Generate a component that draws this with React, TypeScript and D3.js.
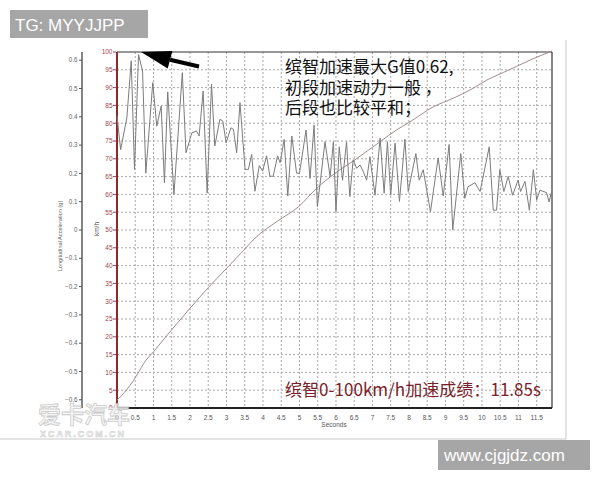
import React from "react";
import * as d3 from "d3";

// ---- data ----
const accelTime = [0.0, 0.1, 0.27, 0.39, 0.48, 0.59, 0.7, 0.79, 0.98, 1.09, 1.21, 1.3, 1.39, 1.56, 1.79, 1.89, 2.05, 2.18, 2.25, 2.36, 2.47, 2.59, 2.68, 2.82, 2.9, 2.99, 3.12, 3.19, 3.28, 3.37, 3.51, 3.6, 3.69, 3.78, 3.9, 3.99, 4.1, 4.19, 4.28, 4.4, 4.47, 4.58, 4.68, 4.79, 4.92, 5.0, 5.18, 5.29, 5.4, 5.49, 5.7, 5.84, 5.93, 6.0, 6.09, 6.18, 6.29, 6.38, 6.47, 6.57, 6.66, 6.75, 6.84, 6.93, 7.07, 7.21, 7.32, 7.41, 7.5, 7.62, 7.74, 7.89, 7.98, 8.19, 8.28, 8.39, 8.59, 8.8, 8.94, 9.1, 9.2, 9.42, 9.53, 9.62, 9.81, 9.95, 10.2, 10.31, 10.4, 10.49, 10.6, 10.72, 10.84, 10.99, 11.06, 11.18, 11.3, 11.41, 11.5, 11.59, 11.77, 11.84, 11.91];
const accelG = [0.403, 0.284, 0.396, 0.598, 0.214, 0.62, 0.562, 0.201, 0.521, 0.367, 0.438, 0.167, 0.488, 0.126, 0.556, 0.273, 0.343, 0.35, 0.332, 0.491, 0.131, 0.515, 0.297, 0.391, 0.385, 0.308, 0.361, 0.356, 0.273, 0.45, 0.214, 0.214, 0.267, 0.137, 0.228, 0.208, 0.262, 0.19, 0.19, 0.262, 0.238, 0.32, 0.12, 0.332, 0.201, 0.2, 0.353, 0.182, 0.371, 0.083, 0.312, 0.189, 0.312, 0.065, 0.294, 0.176, 0.312, 0.118, 0.248, 0.218, 0.23, 0.206, 0.176, 0.259, 0.123, 0.325, 0.13, 0.312, 0.123, 0.307, 0.101, 0.321, 0.136, 0.27, 0.176, 0.213, 0.065, 0.255, 0.12, 0.302, 0.001, 0.27, 0.112, 0.153, 0.167, 0.136, 0.294, 0.07, 0.07, 0.213, 0.136, 0.189, 0.123, 0.176, 0.136, 0.172, 0.07, 0.213, 0.106, 0.141, 0.132, 0.099, 0.136];

const speedTime = [0, 0.27, 0.45, 0.6, 0.73, 1.0, 1.5, 2.0, 2.5, 3.0, 3.5, 3.78, 4.4, 4.97, 5.47, 5.97, 6.52, 7.21, 7.66, 8.03, 8.67, 9.21, 9.76, 10.13, 10.6, 11.0, 11.4, 11.85, 11.92];
const speedKmh = [2.2, 5.2, 7.7, 10.2, 12.5, 15.8, 22.0, 28.0, 33.8, 39.2, 44.6, 47.7, 52.5, 56.5, 61.7, 65.9, 69.7, 74.8, 78.1, 80.4, 84.6, 87.0, 89.8, 92.1, 94.3, 96.2, 98.1, 100, 100.3];

const secondTicks = [0, 0.5, 1, 1.5, 2, 2.5, 3, 3.5, 4, 4.5, 5, 5.5, 6, 6.5, 7, 7.5, 8, 8.5, 9, 9.5, 10, 10.5, 11, 11.5];
const kmhTicks = [0, 5, 10, 15, 20, 25, 30, 35, 40, 45, 50, 55, 60, 65, 70, 75, 80, 85, 90, 95, 100];
const gTicks = [0.6, 0.5, 0.4, 0.3, 0.2, 0.1, 0, -0.1, -0.2, -0.3, -0.4, -0.5, -0.6];

const noteLines = ["缤智加速最大G值0.62,", "初段加速动力一般 ，", "后段也比较平和；"];
const resultText = "缤智0-100km/h加速成绩：11.85s";
const arrowTip = { t: 0.66, g: 0.629 };

export default function App() {
  const left = 117, right = 552, top = 52, bottom = 408;
  const x = d3.scaleLinear().domain([0, 11.92]).range([left, right]);
  const yV = d3.scaleLinear().domain([0, 100]).range([bottom, top]);
  const yA = d3.scaleLinear().domain([-0.629, 0.629]).range([bottom, top]);

  const accelPts: [number, number][] = accelTime.map((t, i) => [t, accelG[i]]);
  const speedPts: [number, number][] = speedTime.map((t, i) => [t, speedKmh[i]]);
  const accelLine = d3.line<[number, number]>().x(d => x(d[0])).y(d => yA(d[1]));
  const speedLine = d3.line<[number, number]>().x(d => x(d[0])).y(d => yV(d[1])).curve(d3.curveMonotoneX);

  const tipX = x(arrowTip.t), tipY = yA(arrowTip.g);
  const dx = 0.966, dy = 0.258;
  const headLen = 30, halfW = 9;
  const bx = tipX + dx * headLen, by = tipY + dy * headLen;
  const px = -dy, py = dx;
  const head = `M${tipX},${tipY} L${bx + px * halfW},${by + py * halfW} L${bx - px * halfW},${by - py * halfW} Z`;

  const sans = "Liberation Sans, Arial, sans-serif";
  const cjk = "Noto Sans CJK SC, sans-serif";

  return (
    <svg width={600} height={480} style={{ position: "absolute", left: 0, top: 0, background: "#fff" }} xmlns="http://www.w3.org/2000/svg">
      <rect x={0} y={0} width={600} height={480} fill="#fff" />
      {/* picture frame lines */}
      <line x1={566} y1={40} x2={566} y2={439} stroke="#c8c8c8" strokeWidth={1} />
      <line x1={0} y1={439} x2={566} y2={439} stroke="#c8c8c8" strokeWidth={1} />

      {/* grid */}
      {secondTicks.filter(t => t > 0).map(t => (
        <line key={"vg" + t} x1={x(t)} x2={x(t)} y1={top} y2={bottom} stroke="#a8a8a8" strokeWidth={1} strokeDasharray="2,2" />
      ))}
      {kmhTicks.filter(v => v > 0 && v < 100).map(v => (
        <line key={"hg" + v} x1={left} x2={right} y1={yV(v)} y2={yV(v)} stroke="#a8a8a8" strokeWidth={1} strokeDasharray="2,2" />
      ))}

      {/* frame */}
      <line x1={left} x2={right} y1={top} y2={top} stroke="#333" strokeWidth={1.2} />
      <line x1={right} x2={right} y1={top} y2={bottom} stroke="#333" strokeWidth={1.2} />
      <line x1={left} x2={right} y1={bottom} y2={bottom} stroke="#222" strokeWidth={2} />
      <line x1={left} x2={left} y1={top} y2={bottom} stroke="#8c2a2a" strokeWidth={2} />

      {/* accel axis */}
      <line x1={82} x2={82} y1={top} y2={bottom} stroke="#333" strokeWidth={1.2} />
      {gTicks.map(g => (
        <g key={"ga" + g}>
          <line x1={79} x2={82} y1={yA(g)} y2={yA(g)} stroke="#555" strokeWidth={1} />
          <text x={77.5} y={yA(g) + 2.2} fontSize={6.3} fill="#666" textAnchor="end" fontFamily={sans}>{d3.format("")(g)}</text>
        </g>
      ))}
      <text transform={`translate(62,236) rotate(-90)`} fontSize={5.6} fill="#666" textAnchor="middle" fontFamily={sans}>Longitudinal Acceleration (g)</text>

      {/* km/h axis */}
      {kmhTicks.map(v => (
        <g key={"kv" + v}>
          <line x1={113} x2={116} y1={yV(v)} y2={yV(v)} stroke="#a04050" strokeWidth={1} />
          <text x={112.5} y={yV(v) + 2.3} fontSize={6.5} fill="#a04050" textAnchor="end" fontFamily={sans}>{v}</text>
        </g>
      ))}
      <text transform={`translate(98.5,229) rotate(-90)`} fontSize={6.5} fill="#555" textAnchor="middle" fontFamily={sans}>km/h</text>

      {/* x axis */}
      {secondTicks.map(t => (
        <text key={"xt" + t} x={x(t)} y={419.5} fontSize={6.5} fill="#555" textAnchor="middle" fontFamily={sans}>{t}</text>
      ))}
      <text x={334} y={426.5} fontSize={6.5} fill="#555" textAnchor="middle" fontFamily={sans}>Seconds</text>

      {/* data */}
      <path d={speedLine(speedPts) || ""} fill="none" stroke="#9e8e8c" strokeWidth={1} />
      <path d={accelLine(accelPts) || ""} fill="none" stroke="#7c7c7c" strokeWidth={1} />

      {/* arrow */}
      <path d={head} fill="#000" />
      <line x1={bx} y1={by} x2={199} y2={66.5} stroke="#000" strokeWidth={4} />

      {/* annotations */}
      {noteLines.map((s, i) => (
        <text key={"n" + i} x={285} y={73 + i * 20.5} fontSize={17} fill="#111" fontFamily={cjk}>{s}</text>
      ))}
      <text x={285} y={396} fontSize={17} fill="#7a1e2a" fontFamily={cjk} textLength={256} lengthAdjust="spacingAndGlyphs">{resultText}</text>

      {/* watermark */}
      <text x={38} y={423} fontSize={23} fontWeight="bold" fill="#f4f4f4" stroke="#c4c4c4" strokeWidth={0.8} fontFamily={cjk} opacity={0.85}>爱卡汽车</text>
      <text x={40} y={437} fontSize={9} fontWeight="bold" fill="#f4f4f4" stroke="#c4c4c4" strokeWidth={0.5} fontFamily={sans} textLength={84} opacity={0.85}>XCAR.COM.CN</text>

      {/* label boxes */}
      <rect x={10} y={10} width={138} height={28} fill="#a6a6a6" />
      <text x={15} y={31} fontSize={17} fill="#fff" fontFamily={sans}>TG: MYYJJPP</text>
      <rect x={438} y={440} width={152} height={30} fill="#a6a6a6" />
      <text x={444} y={461} fontSize={17} fill="#fff" fontFamily={sans}>www.cjgjdz.com</text>
    </svg>
  );
}
